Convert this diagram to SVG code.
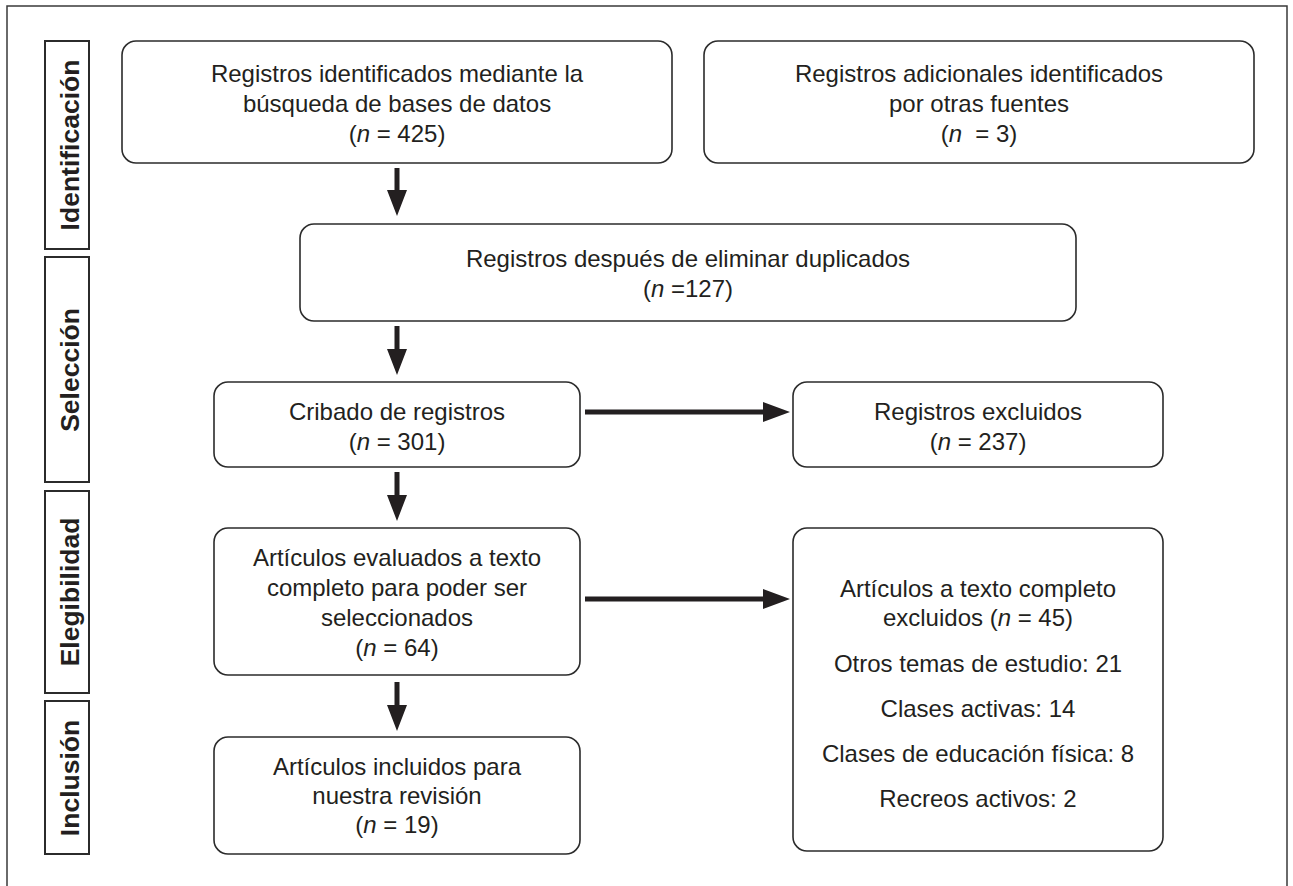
<svg xmlns="http://www.w3.org/2000/svg" width="1293" height="886" viewBox="0 0 1293 886">
<style>
  .box { fill: #ffffff; stroke: #2b2b2b; stroke-width: 1.6; }
  .side { fill: #ffffff; stroke: #2b2b2b; stroke-width: 2; }
  .t { font-family: "Liberation Sans", Arial, sans-serif; font-size: 24px; fill: #231f20; text-anchor: middle; white-space: pre; }
  .s { font-family: "Liberation Sans", Arial, sans-serif; font-size: 26.5px; font-weight: bold; fill: #231f20; text-anchor: middle; }
  .i { font-style: italic; }
  .arrow { fill: #231f20; stroke: none; }
</style>
<rect width="1293" height="886" fill="#ffffff"/>
<path d="M7,886 V6 H1287 V886" fill="none" stroke="#3a3a3a" stroke-width="1.5"/>

<g id="phase-identificacion">
  <rect class="side" x="45" y="41" width="44" height="208"/>
  <text class="s" transform="translate(79,145) rotate(-90)">Identificación</text>
</g>
<g id="phase-seleccion">
  <rect class="side" x="45" y="257" width="44" height="225"/>
  <text class="s" transform="translate(79,370) rotate(-90)">Selección</text>
</g>
<g id="phase-elegibilidad">
  <rect class="side" x="45" y="491" width="44" height="202"/>
  <text class="s" transform="translate(79,592) rotate(-90)">Elegibilidad</text>
</g>
<g id="phase-inclusion">
  <rect class="side" x="45" y="701" width="44" height="153"/>
  <text class="s" transform="translate(79,778) rotate(-90)">Inclusión</text>
</g>

<g id="node-db">
  <rect class="box" x="122" y="41" width="550" height="122" rx="14"/>
  <text class="t" x="397" y="82">Registros identificados mediante la</text>
  <text class="t" x="397" y="112">búsqueda de bases de datos</text>
  <text class="t" x="397" y="142">(<tspan class="i">n</tspan> = 425)</text>
</g>
<g id="node-other">
  <rect class="box" x="704" y="41" width="550" height="122" rx="14"/>
  <text class="t" x="979" y="82">Registros adicionales identificados</text>
  <text class="t" x="979" y="112">por otras fuentes</text>
  <text class="t" x="979" y="142">(<tspan class="i">n</tspan>  = 3)</text>
</g>
<g id="node-dedup">
  <rect class="box" x="300" y="224" width="776" height="97" rx="14"/>
  <text class="t" x="688" y="267">Registros después de eliminar duplicados</text>
  <text class="t" x="688" y="297">(<tspan class="i">n</tspan> =127)</text>
</g>
<g id="node-screen">
  <rect class="box" x="214" y="382" width="366" height="85" rx="14"/>
  <text class="t" x="397" y="420">Cribado de registros</text>
  <text class="t" x="397" y="450">(<tspan class="i">n</tspan> = 301)</text>
</g>
<g id="node-excluded">
  <rect class="box" x="793" y="382" width="370" height="85" rx="14"/>
  <text class="t" x="978" y="420">Registros excluidos</text>
  <text class="t" x="978" y="450">(<tspan class="i">n</tspan> = 237)</text>
</g>
<g id="node-fulltext">
  <rect class="box" x="214" y="528" width="366" height="147" rx="14"/>
  <text class="t" x="397" y="566">Artículos evaluados a texto</text>
  <text class="t" x="397" y="596">completo para poder ser</text>
  <text class="t" x="397" y="626">seleccionados</text>
  <text class="t" x="397" y="656">(<tspan class="i">n</tspan> = 64)</text>
</g>
<g id="node-fulltext-excluded">
  <rect class="box" x="793" y="528" width="370" height="323" rx="14"/>
  <text class="t" x="978" y="597">Artículos a texto completo</text>
  <text class="t" x="978" y="626">excluidos (<tspan class="i">n</tspan> = 45)</text>
  <text class="t" x="978" y="672">Otros temas de estudio: 21</text>
  <text class="t" x="978" y="717">Clases activas: 14</text>
  <text class="t" x="978" y="762">Clases de educación física: 8</text>
  <text class="t" x="978" y="807">Recreos activos: 2</text>
</g>
<g id="node-included">
  <rect class="box" x="214" y="737" width="366" height="117" rx="14"/>
  <text class="t" x="397" y="775">Artículos incluidos para</text>
  <text class="t" x="397" y="804">nuestra revisión</text>
  <text class="t" x="397" y="833">(<tspan class="i">n</tspan> = 19)</text>
</g>

<g id="connectors">
  <path class="arrow" d="M394.5,168 H399.5 V190 H407 L397,216 L387,190 H394.5 Z"/>
  <path class="arrow" d="M394.5,326 H399.5 V349 H407 L397,375 L387,349 H394.5 Z"/>
  <path class="arrow" d="M394.5,472 H399.5 V495 H407 L397,521 L387,495 H394.5 Z"/>
  <path class="arrow" d="M394.5,682 H399.5 V705 H407 L397,731 L387,705 H394.5 Z"/>
  <path class="arrow" d="M585,409.5 H763 V402 L790,412 L763,422 V414.5 H585 Z"/>
  <path class="arrow" d="M585,596.5 H763 V589 L790,599 L763,609 V601.5 H585 Z"/>
</g>
</svg>
